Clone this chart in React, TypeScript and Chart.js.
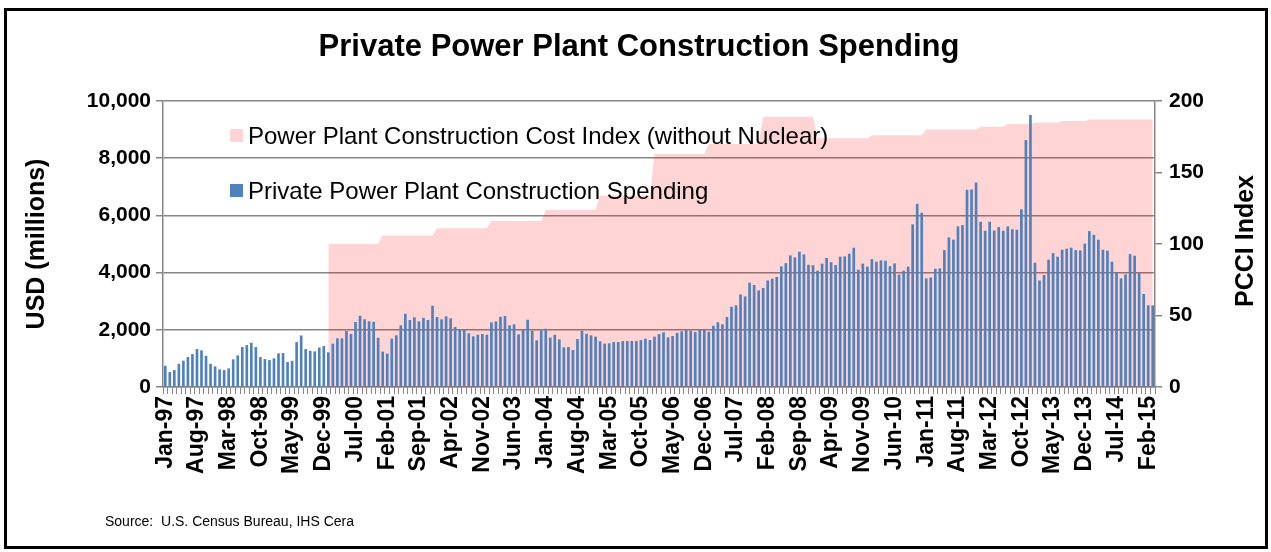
import React, { useEffect, useRef } from 'react';
import { Chart, registerables } from 'chart.js';

Chart.register(...registerables);

// ---------- DATA ----------
const MONTH_NAMES = ['Jan', 'Feb', 'Mar', 'Apr', 'May', 'Jun', 'Jul', 'Aug', 'Sep', 'Oct', 'Nov', 'Dec'];
const FIRST_YEAR = 1997;
const MONTH_COUNT = 219; // Jan-97 .. Mar-15
const LABEL_EVERY = 7;

const categories: string[] = [];
for (let i = 0; i < MONTH_COUNT; i++) {
  const yy = (FIRST_YEAR + Math.floor(i / 12)) % 100;
  categories.push(`${MONTH_NAMES[i % 12]}-${String(yy).padStart(2, '0')}`);
}

// Private power plant construction spending, USD millions (monthly)
const spending: number[] = [
  // 1997
  730, 510, 580, 800, 910, 1035, 1140, 1315, 1270, 1080, 800, 710,
  // 1998
  605, 580, 640, 955, 1095, 1385, 1455, 1535, 1385, 1035, 965, 930,
  // 1999
  990, 1165, 1175, 860, 905, 1560, 1790, 1315, 1255, 1235, 1370, 1420,
  // 2000
  1200, 1505, 1690, 1690, 1945, 1840, 2260, 2480, 2355, 2285, 2270, 1710,
  // 2001
  1225, 1155, 1680, 1795, 2145, 2550, 2330, 2425, 2285, 2410, 2330, 2830,
  // 2002
  2435, 2355, 2460, 2390, 2085, 1990, 1990, 1865, 1760, 1815, 1840, 1815,
  // 2003
  2250, 2280, 2445, 2470, 2145, 2180, 1830, 2005, 2340, 1955, 1620, 1970,
  // 2004
  2025, 1715, 1815, 1655, 1375, 1385, 1280, 1665, 1955, 1850, 1795, 1750,
  // 2005
  1585, 1505, 1515, 1560, 1560, 1595, 1595, 1595, 1595, 1630, 1680, 1630,
  // 2006
  1750, 1840, 1900, 1725, 1770, 1885, 1935, 1980, 1955, 1910, 2005, 2005,
  // 2007
  1920, 2130, 2250, 2180, 2435, 2795, 2845, 3225, 3155, 3635, 3555, 3365,
  // 2008
  3450, 3715, 3775, 3835, 4205, 4320, 4590, 4520, 4720, 4625, 4265, 4250,
  // 2009
  4055, 4300, 4500, 4355, 4250, 4545, 4555, 4650, 4860, 4090, 4300, 4195,
  // 2010
  4460, 4370, 4415, 4405, 4215, 4310, 3915, 4055, 4195, 5675, 6395, 6080,
  // 2011
  3785, 3820, 4125, 4135, 4775, 5220, 5140, 5605, 5650, 6885, 6895, 7140,
  // 2012
  5765, 5450, 5765, 5460, 5580, 5450, 5605, 5500, 5485, 6200, 8620, 9495,
  // 2013
  4335, 3715, 3905, 4440, 4670, 4545, 4790, 4825, 4860, 4775, 4765, 5000,
  // 2014
  5440, 5310, 5140, 4790, 4755, 4370, 4010, 3785, 3925, 4635, 4580, 3975,
  // 2015
  3240, 2845, 2845,
];

// Power Plant Construction Cost Index (without nuclear), monthly
const pcci: (number | null)[] = [
  // 1997
  null, null, null, null, null, null, null, null, null, null, null, null,
  // 1998
  null, null, null, null, null, null, null, null, null, null, null, null,
  // 1999
  null, null, null, null, null, null, null, null, null, null, null, null,
  // 2000
  100, 100, 100, 100, 100, 100, 100, 100, 100, 100, 100, 100,
  // 2001
  106, 106, 106, 106, 106, 106, 106, 106, 106, 106, 106, 106,
  // 2002
  111, 111, 111, 111, 111, 111, 111, 111, 111, 111, 111, 111,
  // 2003
  116, 116, 116, 116, 116, 116, 116, 116, 116, 116, 116, 116,
  // 2004
  124, 124, 124, 124, 124, 124, 124, 124, 124, 124, 124, 124,
  // 2005
  134, 134, 134, 134, 134, 134, 134, 134, 134, 134, 134, 134,
  // 2006
  163, 163, 163, 163, 163, 163, 163, 163, 163, 163, 163, 163,
  // 2007
  170, 170, 170, 170, 170, 170, 170, 170, 170, 170, 170, 170,
  // 2008
  189, 189, 189, 189, 189, 189, 189, 189, 189, 189, 189, 189,
  // 2009
  174, 174, 174, 174, 174, 174, 174, 174, 174, 174, 174, 174,
  // 2010
  176, 176, 176, 176, 176, 176, 176, 176, 176, 176, 176, 176,
  // 2011
  180, 180, 180, 180, 180, 180, 180, 180, 180, 180, 180, 180,
  // 2012
  182, 182, 182, 182, 182, 182, 184, 184, 184, 184, 184, 184,
  // 2013
  185, 185, 185, 185, 185, 185, 186, 186, 186, 186, 186, 186,
  // 2014
  187, 187, 187, 187, 187, 187, 187, 187, 187, 187, 187, 187,
  // 2015
  187, 187, 187,
];

const TITLE = 'Private Power Plant Construction Spending';
const LEFT_TITLE = 'USD (millions)';
const RIGHT_TITLE = 'PCCI Index';
const PCCI_LABEL = 'Power Plant Construction Cost Index (without Nuclear)';
const SPEND_LABEL = 'Private Power Plant Construction Spending';
const SOURCE = 'Source:  U.S. Census Bureau, IHS Cera';
const LEFT_MAX = 10000;
const LEFT_STEP = 2000;
const RIGHT_MAX = 200;
const RIGHT_STEP = 50;

// ---------- STYLE ----------
const W = 1271;
const H = 552;
const FONT = '"Liberation Sans", Arial, sans-serif';
const PINK = 'rgba(255, 0, 0, 0.17)';
const BLUE = '#4F81BD';
const GRID = '#868686';

const decorPlugin = {
  id: 'decor',
  beforeDraw(chart: any) {
    const ctx = chart.ctx;
    ctx.save();
    ctx.fillStyle = '#ffffff';
    ctx.fillRect(0, 0, chart.width, chart.height);
    ctx.restore();
  },
  afterDraw(chart: any) {
    const ctx = chart.ctx;
    const area = chart.chartArea;
    const midY = (area.top + area.bottom) / 2;
    ctx.save();
    ctx.fillStyle = '#000';

    // Title
    ctx.font = `bold 31px ${FONT}`;
    ctx.textAlign = 'center';
    ctx.textBaseline = 'alphabetic';
    ctx.fillText(TITLE, 639, 56);

    // Axis titles
    ctx.font = `bold 25px ${FONT}`;
    ctx.textBaseline = 'middle';
    ctx.save();
    ctx.translate(37, midY);
    ctx.rotate(-Math.PI / 2);
    ctx.fillText(LEFT_TITLE, 0, 0);
    ctx.restore();
    ctx.save();
    ctx.translate(1246, midY - 3);
    ctx.rotate(-Math.PI / 2);
    ctx.fillText(RIGHT_TITLE, 0, 0);
    ctx.restore();

    // Legend (inside plot area)
    ctx.fillStyle = PINK;
    ctx.fillRect(230, 129, 13, 13);
    ctx.fillStyle = BLUE;
    ctx.fillRect(230, 184, 13, 13);
    ctx.fillStyle = '#000';
    ctx.font = `24px ${FONT}`;
    ctx.textAlign = 'left';
    ctx.textBaseline = 'alphabetic';
    ctx.fillText(PCCI_LABEL, 248, 144);
    ctx.fillText(SPEND_LABEL, 248, 199);

    // Source
    ctx.font = `14px ${FONT}`;
    ctx.fillText(SOURCE, 105, 526);

    // Outer frame
    ctx.strokeStyle = '#000';
    ctx.lineWidth = 3;
    ctx.strokeRect(5.5, 9.5, 1261, 538);
    ctx.restore();
  },
};

export default function App() {
  const canvasRef = useRef<HTMLCanvasElement | null>(null);

  useEffect(() => {
    const canvas = canvasRef.current;
    if (!canvas) return;
    const chart = new Chart(canvas, {
      type: 'bar',
      data: {
        labels: categories,
        datasets: [
          {
            type: 'line',
            label: PCCI_LABEL,
            data: pcci,
            yAxisID: 'y1',
            borderWidth: 0,
            borderColor: 'rgba(0,0,0,0)',
            backgroundColor: PINK,
            pointRadius: 0,
            fill: 'origin',
            tension: 0,
            spanGaps: false,
            order: 2,
          } as any,
          {
            type: 'bar',
            label: SPEND_LABEL,
            data: spending,
            yAxisID: 'y',
            backgroundColor: BLUE,
            barThickness: 2,
            order: 1,
          } as any,
        ],
      },
      options: {
        animation: false,
        responsive: false,
        devicePixelRatio: 1,
        layout: { padding: { top: 101, left: 0, right: 0, bottom: 0 } },
        plugins: {
          legend: { display: false },
          title: { display: false },
          tooltip: { enabled: false },
        },
        scales: {
          x: {
            type: 'category',
            offset: true,
            grid: {
              display: true,
              drawOnChartArea: false,
              drawTicks: true,
              tickLength: 7,
              color: GRID,
              lineWidth: 1,
              offset: true,
            },
            border: { display: true, color: GRID, width: 1.5 },
            ticks: {
              autoSkip: false,
              maxRotation: 90,
              minRotation: 90,
              crossAlign: 'center',
              padding: 2,
              color: '#000',
              font: { family: FONT, size: 23, weight: 'bold' },
              callback: (_v: any, i: number) => (i % LABEL_EVERY === 0 ? categories[i] : ''),
            },
            afterFit: (scale: any) => {
              scale.height = H - 387;
            },
          },
          y: {
            position: 'left',
            min: 0,
            max: LEFT_MAX,
            grid: { color: GRID, lineWidth: 1.5, tickLength: 7, drawTicks: true },
            border: { display: true, color: GRID, width: 1.5 },
            ticks: {
              stepSize: LEFT_STEP,
              padding: 5,
              color: '#000',
              font: { family: FONT, size: 21, weight: 'bold' },
              callback: (v: any) => Number(v).toLocaleString('en-US'),
            },
            afterFit: (scale: any) => {
              scale.width = 163;
            },
          },
          y1: {
            position: 'right',
            min: 0,
            max: RIGHT_MAX,
            grid: { drawOnChartArea: false, color: GRID, lineWidth: 1.5, tickLength: 7, drawTicks: true },
            border: { display: true, color: GRID, width: 1.5 },
            ticks: {
              stepSize: RIGHT_STEP,
              padding: 7,
              color: '#000',
              font: { family: FONT, size: 21, weight: 'bold' },
            },
            afterFit: (scale: any) => {
              scale.width = W - 1155;
            },
          },
        },
      } as any,
      plugins: [decorPlugin],
    });
    return () => chart.destroy();
  }, []);

  return (
    <div style={{ position: 'absolute', left: 0, top: 0, width: W, height: H, background: '#fff' }}>
      <canvas ref={canvasRef} width={W} height={H} style={{ display: 'block', width: W, height: H }} />
    </div>
  );
}
